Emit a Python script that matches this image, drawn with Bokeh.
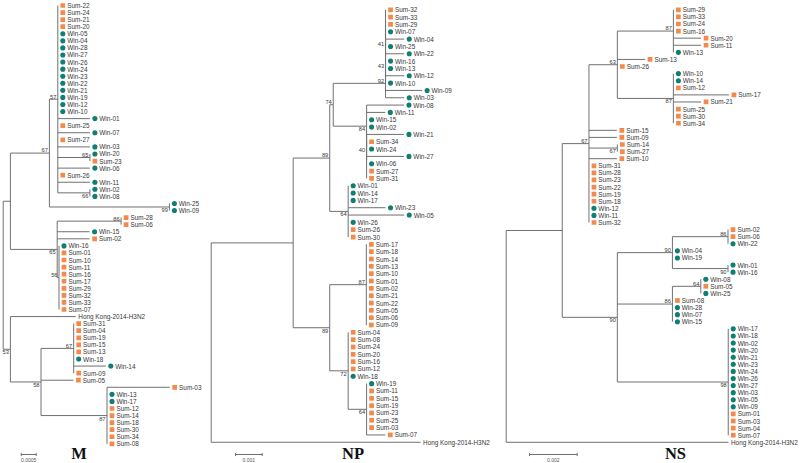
import math
from bokeh.plotting import figure
from bokeh.models import Range1d, ColumnDataSource
from bokeh.layouts import row
from bokeh.core.properties import value
from bokeh.embed import file_html
from bokeh.resources import INLINE

# ---------------- data: three gene trees (Newick, branch lengths in subst./site, bootstrap as node labels)
M_NEWICK = (
    "((((Sum-22:0,Sum-24:0,Sum-21:0,Sum-20:0,Win-05:0,Win-04:0,Win-28:0,Win-27:0,Win-26:0,Win-24:0,"
    "Win-23:0,Win-22:0,Win-21:0,Win-19:0,Win-12:0,Win-10:0,Win-01:0.00107,Sum-25:0,Win-07:0.00107,"
    "Sum-27:0,Win-03:0.00107,(Win-20:0,Sum-23:0)65:0.00107,Win-06:0.00107,Sum-26:0,Win-11:0.00107,"
    "(Win-02:0,Win-08:0)66:0.00107)57:0.00028,(Win-25:0,Win-09:0)99:0.004)67:0.0013,"
    "((Sum-28:0,Sum-06:0)86:0.00213,Win-15:0.00108,Sum-02:0.00108,(Win-16:0,Sum-01:0,Sum-10:0,"
    "Sum-11:0,Sum-16:0,Sum-17:0,Sum-29:0,Sum-32:0,Sum-33:0,Sum-07:0)56:0.00006)65:0.00156):0.00024,"
    "(Hong Kong-2014-H3N2:0.00218,((Sum-31:0,Sum-04:0,Sum-19:0,Sum-15:0,Sum-13:0,Win-18:0,"
    "Win-14:0.00107,Sum-09:0)67:0.00109,Sum-05:0.00108,(Sum-03:0.00209,Win-13:0,Win-17:0,Sum-12:0,"
    "Sum-14:0,Sum-18:0,Sum-30:0,Sum-34:0,Sum-08:0)87:0.0022)58:0.00102)53:0.00024);"
)

NP_NEWICK = (
    "(((((((((Sum-32:0,Sum-33:0,Sum-29:0,Win-07:0,Win-04:0.0007,Win-25:0):0,Win-22:0.0007)41:0,"
    "Win-16:0,Win-13:0):0,Win-12:0.0007,Win-10:0)43:0,Win-09:0.00137,Win-03:0.0007)92:0.00196,"
    "(Win-08:0.0014,Win-11:0.0007,Win-15:0,Win-02:0,(Win-21:0.0014,(Sum-34:0,Win-24:0,Win-27:0.0014,"
    "Win-06:0,Sum-27:0,Sum-31:0):0)40:0)84:0.00125)74:0.00013,"
    "(Win-01:0,Win-14:0,Win-17:0,Win-23:0.0014,Win-05:0.0021,Win-26:0,Sum-26:0,Sum-30:0)64:0.00069)89:0.00137,"
    "((Sum-17:0,Sum-18:0,Sum-14:0,Sum-13:0,Sum-10:0,Sum-01:0,Sum-02:0,Sum-21:0,Sum-22:0,Sum-05:0,"
    "Sum-06:0,Sum-09:0)87:0.00137,(Sum-04:0,Sum-08:0,Sum-24:0,Sum-20:0,Sum-16:0,Sum-12:0,Win-18:0,"
    "(Win-19:0,Sum-11:0,Sum-15:0,Sum-19:0,Sum-23:0,Sum-25:0,Sum-03:0,Sum-07:0.0007)64:0.00069)72:0.00069)"
    "89:0.00137):0.00307,Hong Kong-2014-H3N2:0.00784);"
)

NS_NEWICK = (
    "(((((Sum-29:0,Sum-33:0,Sum-24:0,Sum-16:0,Sum-20:0.00116,Sum-11:0.00116,Win-13:0)87:0.00235,"
    "Sum-13:0.00116,Sum-26:0,(Win-10:0,Win-14:0,Sum-12:0,Sum-17:0.00233,Sum-21:0.00116,Sum-25:0,"
    "Sum-30:0,Sum-34:0)87:0.00235)63:0.00119,Sum-15:0.00117,Sum-09:0.00117,(Sum-14:0,Sum-27:0)67:0.00119,"
    "Sum-10:0.00117,Sum-31:0,Sum-28:0,Sum-23:0,Sum-22:0,Sum-19:0,Sum-18:0,Win-12:0,Win-11:0,Sum-32:0)"
    "67:0.00112,(((Sum-02:0,Sum-06:0,Win-22:0)86:0.00233,Win-04:0,Win-19:0,(Win-01:0,Win-16:0)90:0.00233)"
    "90:0.00231,((Win-08:0,Sum-05:0,Win-25:0)64:0.00119,Sum-08:0,Win-28:0,Win-07:0,Win-15:0)86:0.00231,"
    "(Win-17:0,Win-18:0,Win-02:0,Win-20:0,Win-21:0,Win-23:0,Win-24:0,Win-26:0,Win-27:0,Win-03:0,"
    "Win-05:0,Win-09:0,Sum-01:0,Sum-03:0,Sum-04:0,Sum-07:0)98:0.00465)90:0.00231):0.00235,"
    "Hong Kong-2014-H3N2:0.00932);"
)

PANEL_NAMES = ["M", "NP", "NS"]
PANEL_TREES = [M_NEWICK, NP_NEWICK, NS_NEWICK]
SCALE_BAR_LENGTHS = [0.0005, 0.001, 0.002]
SCALE_BAR_LABELS = ["0.0005", "0.001", "0.002"]

# ---------------- styling / layout
SUM_COLOR = "#F28A4E"
WIN_COLOR = "#0F7E74"
LINE_COLOR = "#707070"
TEXT_COLOR = "#383838"
FONT = value("Liberation Sans")
HEIGHT = 463
# bootstrap labels whose side differs from the default rule: (panel, label, first leaf) -> "above"/"below"
LABEL_SIDE = {
    ("M", "65", "Win-20"): "above",
    ("M", "56", "Win-16"): "above",
    ("NP", "41", "Sum-32"): "below",
}
GEOM = {
    "M":  dict(width=207, left=0.0,   root=2.7,   ppu=30000.0, first=5.0, step=7.07, bar_x=20.7, title_x=78.5),
    "NP": dict(width=283, left=207.0, root=210.7, ppu=26700.0, first=9.3, step=7.33, bar_x=235.0, title_x=352.5),
    "NS": dict(width=310, left=490.0, root=505.7, ppu=23850.0, first=9.3, step=7.09, bar_x=529.0, title_x=675.0),
}


class Node:
    def __init__(self):
        self.children = []
        self.name = ""
        self.length = 0.0
        self.parent = None
        self.x = 0.0
        self.y = 0.0


def parse_newick(s):
    s = s.strip().rstrip(";")
    pos = 0

    def parse_node():
        nonlocal pos
        node = Node()
        if s[pos] == "(":
            pos += 1
            while True:
                child = parse_node()
                child.parent = node
                node.children.append(child)
                if s[pos] == ",":
                    pos += 1
                    continue
                if s[pos] == ")":
                    pos += 1
                    break
        start = pos
        while pos < len(s) and s[pos] not in ",():":
            pos += 1
        node.name = s[start:pos].strip()
        if pos < len(s) and s[pos] == ":":
            pos += 1
            start = pos
            while pos < len(s) and s[pos] not in ",()":
                pos += 1
            node.length = float(s[start:pos])
        return node

    return parse_node()


def layout(root):
    nodes, leaves = [], []

    def walk(n, px):
        n.x = px + n.length
        nodes.append(n)
        if not n.children:
            n.y = float(len(leaves))
            leaves.append(n)
        else:
            for c in n.children:
                walk(c, n.x)
            n.y = (n.children[0].y + n.children[-1].y) / 2.0

    root.length = 0.0
    walk(root, 0.0)
    return nodes, leaves


def first_leaf(n):
    while n.children:
        n = n.children[0]
    return n.name


def draw_panel(name, newick, bar_len, bar_label):
    g = GEOM[name]
    ppu = g["ppu"]
    xs = (g["left"] - g["root"]) / ppu
    xe = xs + g["width"] / ppu
    a = g["first"]
    d = g["step"]
    p = figure(width=g["width"], height=HEIGHT, output_backend="svg", toolbar_location=None,
               x_range=Range1d(xs, xe), y_range=Range1d((HEIGHT - a) / d, -a / d),
               x_axis_type=None, y_axis_type=None, min_border=0, outline_line_color=None)
    p.grid.visible = False

    def rx(ref_x):
        return (ref_x - g["root"]) / ppu

    def ry(ref_y):
        return (ref_y - g["first"]) / g["step"]

    root = parse_newick(newick)
    nodes, leaves = layout(root)

    seg = dict(x0=[], y0=[], x1=[], y1=[])
    for n in nodes:
        if n.parent is not None:
            seg["x0"].append(n.parent.x); seg["y0"].append(n.y)
            seg["x1"].append(n.x); seg["y1"].append(n.y)
        if n.children:
            seg["x0"].append(n.x); seg["y0"].append(n.children[0].y)
            seg["x1"].append(n.x); seg["y1"].append(n.children[-1].y)
    p.segment(x0="x0", y0="y0", x1="x1", y1="y1", source=ColumnDataSource(seg),
              line_color=LINE_COLOR, line_width=1)

    moff = 5.0 / ppu
    sums = [l for l in leaves if l.name.startswith("Sum")]
    wins = [l for l in leaves if l.name.startswith("Win")]
    others = [l for l in leaves if not (l.name.startswith("Sum") or l.name.startswith("Win"))]
    p.scatter(x=[l.x + moff for l in sums], y=[l.y for l in sums], marker="square",
              size=4.7, fill_color=SUM_COLOR, line_color=None)
    p.scatter(x=[l.x + moff for l in wins], y=[l.y for l in wins], marker="circle",
              size=5.1, fill_color=WIN_COLOR, line_color=None)
    marked = sums + wins
    p.text(x=[l.x + moff for l in marked], y=[l.y for l in marked], text=[l.name for l in marked],
           x_offset=4.4, text_baseline="middle", text_align="left", text_font=FONT,
           text_font_size="6.4px", text_color=TEXT_COLOR)
    p.text(x=[l.x for l in others], y=[l.y for l in others], text=[l.name for l in others],
           x_offset=2.5, text_baseline="middle", text_align="left", text_font=FONT,
           text_font_size="6.4px", text_color=TEXT_COLOR)

    up = dict(x=[], y=[], t=[])
    dn = dict(x=[], y=[], t=[])
    for n in nodes:
        if n.children and n.name and n.parent is not None:
            side = LABEL_SIDE.get((name, n.name, first_leaf(n)),
                                  "above" if n.y < n.parent.y else "below")
            tgt = up if side == "above" else dn
            tgt["x"].append(n.x); tgt["y"].append(n.y); tgt["t"].append(n.name)
    p.text(x="x", y="y", text="t", source=ColumnDataSource(up), x_offset=-1.5, y_offset=-0.6,
           text_align="right", text_baseline="bottom", text_font=FONT, text_font_size="5.7px",
           text_color=TEXT_COLOR)
    p.text(x="x", y="y", text="t", source=ColumnDataSource(dn), x_offset=-1.5, y_offset=1.0,
           text_align="right", text_baseline="top", text_font=FONT, text_font_size="5.7px",
           text_color=TEXT_COLOR)

    # scale bar
    bx0 = rx(g["bar_x"])
    by = ry(454.0)
    p.segment(x0=[bx0], y0=[by], x1=[bx0 + bar_len], y1=[by], line_color=LINE_COLOR, line_width=1)
    p.scatter(x=[bx0, bx0 + bar_len], y=[by, by], marker="dash", angle=math.pi / 2, size=3.2,
              line_color=LINE_COLOR, line_width=1)
    p.text(x=[bx0 + bar_len / 2], y=[ry(459.3)], text=[bar_label], text_align="center",
           text_baseline="middle", text_font=FONT, text_font_size="5px", text_color="#555555")

    # panel title
    p.text(x=[rx(g["title_x"])], y=[ry(452.6)], text=[name], text_align="center",
           text_baseline="middle", text_font=value("Liberation Serif"), text_font_style="bold",
           text_font_size="16.5px", text_color="#111111")
    return p


panels = [draw_panel(n, t, b, l) for n, t, b, l in
          zip(PANEL_NAMES, PANEL_TREES, SCALE_BAR_LENGTHS, SCALE_BAR_LABELS)]
layout_obj = row(*panels, spacing=0)
open("out.html", "w").write(file_html(layout_obj, INLINE))
